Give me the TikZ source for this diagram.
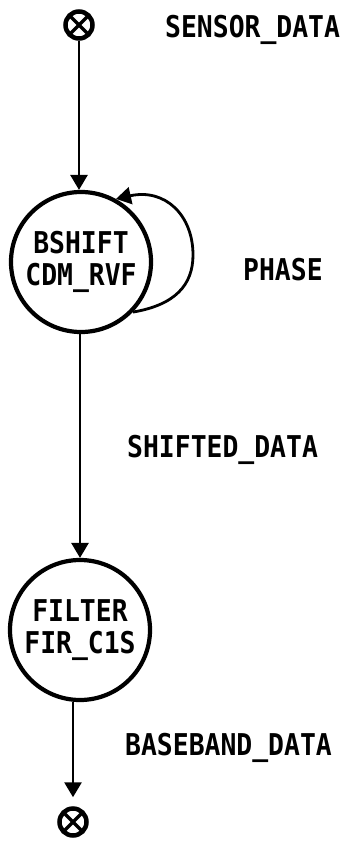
\documentclass[tikz,border=0pt]{standalone}
\usepackage{fontspec}
\newfontfamily\plotfont{DejaVu Sans Mono}[FakeStretch=0.88]
\usetikzlibrary{arrows.meta}
\begin{document}
\begin{tikzpicture}[x=1pt,y=-1pt,
  txt/.style={font=\plotfont\bfseries\fontsize{30}{32}\selectfont},
  proc/.style={circle, draw, line width=4.2pt, minimum size=140pt, inner sep=0pt, align=center, txt},
  term/.style={circle, draw, line width=4.5pt, minimum size=27pt, inner sep=0pt,
    path picture={\draw[line width=3.5pt]
      (path picture bounding box.south west) -- (path picture bounding box.north east)
      (path picture bounding box.north west) -- (path picture bounding box.south east);}},
  flow/.style={line width=2.8pt, -{Triangle[width=17pt,length=15pt]}},
  lbl/.style={txt, inner sep=0pt, anchor=base west}]
\useasboundingbox (0,0) rectangle (345,842);
\node[term] (src) at (79,25) {};
\node[proc] (bshift) at (81,262) {BSHIFT\\CDM\_RVF};
\node[proc] (filter) at (80,630) {FILTER\\FIR\_C1S};
\node[term] (snk) at (73,822) {};
\draw[flow] (src) -- (src |- bshift.north);
\draw[flow] (bshift.south -| filter) -- (filter.north);
\draw[flow, shorten >=9pt] (filter.south -| snk) -- (snk);
\draw[flow] (bshift.-44) .. controls (175,305) and (193,285) .. (193,255)
  .. controls (193,215) and (165,188) .. (bshift.61);
\node[lbl] (l1) at (165,38) {SENSOR\_DATA};
\node[lbl] (l2) at (243,280) {PHASE};
\node[lbl] (l3) at (127,457) {SHIFTED\_DATA};
\node[lbl] (l4) at (125,755) {BASEBAND\_DATA};
\end{tikzpicture}
\end{document}
